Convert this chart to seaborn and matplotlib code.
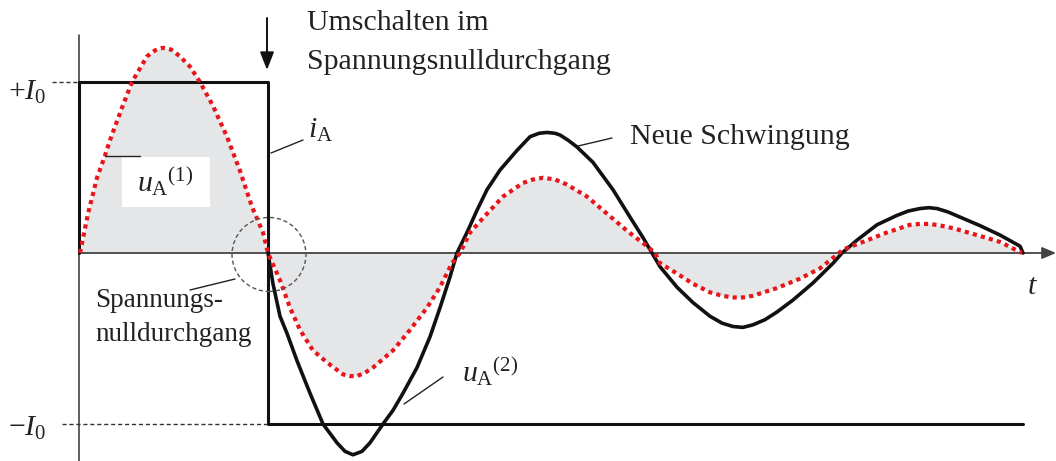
import numpy as np
import matplotlib
matplotlib.use("Agg")
import matplotlib.pyplot as plt
import seaborn as sns
from matplotlib.patches import Rectangle, Ellipse

sns.set_theme(style="white")
plt.rcParams['font.family'] = ['Liberation Serif', 'DejaVu Serif']
plt.rcParams['mathtext.fontset'] = 'custom'
plt.rcParams['mathtext.rm'] = 'Liberation Serif'
plt.rcParams['mathtext.it'] = 'Liberation Serif:italic'

# ---- data (time in arbitrary units, values in units of I0) ----
i_t = [0, 0, 189, 189, 944]
i_v = [0, 1, 1, -1, -1]

red_t = [1, 9, 18, 26, 31, 43, 53, 68, 76, 84, 92, 101, 111, 121, 134, 148, 161, 173, 184, 189,
         201, 211, 221, 234, 248, 264, 271, 278, 286, 294, 314, 331, 348, 361, 373, 381,
         391, 408, 424, 444, 454, 464, 476, 488, 508, 528, 548, 568, 576,
         581, 598, 614, 631, 643, 654, 664, 674, 698, 721, 741, 758, 764,
         784, 808, 831, 841, 851, 862, 874, 898, 921, 943]
red_u = [0, 0.23, 0.44, 0.57, 0.66, 0.85, 1.00, 1.15, 1.185, 1.20, 1.19, 1.15, 1.09, 1.00, 0.86, 0.68, 0.48, 0.27, 0.12, 0,
         -0.16, -0.32, -0.45, -0.57, -0.64, -0.71, -0.72, -0.72, -0.70, -0.67, -0.57, -0.45, -0.32, -0.20, -0.06, 0,
         0.12, 0.23, 0.33, 0.41, 0.43, 0.44, 0.43, 0.40, 0.33, 0.23, 0.13, 0.04, 0,
         -0.06, -0.12, -0.18, -0.23, -0.25, -0.26, -0.26, -0.25, -0.205, -0.15, -0.09, -0.01, 0.02,
         0.065, 0.12, 0.165, 0.17, 0.17, 0.16, 0.145, 0.105, 0.065, 0.0]

blk_t = [189, 194, 201, 208, 218, 231, 244, 258, 266, 274, 283, 291, 304, 314, 324, 338, 351, 361, 371, 378,
         388, 398, 408, 421, 438, 451, 460, 468, 476, 481, 489, 498, 514, 534, 551, 564, 573,
         581, 598, 614, 631, 643, 654, 664, 674, 686, 698, 714, 734, 754, 763,
         771, 778, 798, 818, 829, 841, 850, 858, 869, 881, 901, 921, 941, 944]
blk_u = [0, -0.18, -0.37, -0.47, -0.63, -0.82, -1.0, -1.11, -1.16, -1.18, -1.16, -1.11, -1.0, -0.92, -0.82, -0.67, -0.49, -0.32, -0.14, 0,
         0.12, 0.25, 0.37, 0.485, 0.60, 0.68, 0.70, 0.705, 0.70, 0.69, 0.66, 0.62, 0.53, 0.37, 0.21, 0.09, 0,
         -0.08, -0.20, -0.29, -0.37, -0.41, -0.43, -0.435, -0.42, -0.39, -0.345, -0.275, -0.175, -0.06, 0,
         0.04, 0.075, 0.165, 0.22, 0.245, 0.26, 0.265, 0.26, 0.24, 0.21, 0.16, 0.105, 0.04, 0]

# ---- figure ----
fig = plt.figure(figsize=(10.56, 4.61), dpi=100)
ax = fig.add_axes([0, 0, 1, 1])
ax.set_xlim(-79, 977)
ax.set_ylim(-208 / 171, 253 / 171)
ax.axis('off')

red = '#e8151b'
fs = 21.5
fs_small = 19.5
tc = '#222222'

# gray fill under red curve
ax.fill_between(red_t, red_u, 0, color='#e5e6e8', zorder=1, linewidth=0)

# axes
ax.plot([0, 0], [-208 / 171, 218 / 171], color='#333333', lw=1.1, zorder=2)
ax.annotate('', xy=(977, 0), xytext=(0, 0),
            arrowprops=dict(arrowstyle='-|>,head_length=0.7,head_width=0.3',
                            color='#444444', lw=1.3, shrinkA=0, shrinkB=0), zorder=2)

# dashed level markers
ax.plot([-27, 0], [1, 1], color='#333333', lw=1.0, ls=(0, (3, 2)), zorder=2)
ax.plot([-17, 189], [-1, -1], color='#333333', lw=1.0, ls=(0, (3, 2)), zorder=2)

# white label box
ax.add_patch(Rectangle((43, (253 - 207) / 171), 88, 50 / 171, facecolor='white',
                       edgecolor='none', zorder=1.5))

# curves
sns.lineplot(x=red_t, y=red_u, ax=ax, color=red, lw=3.0, linestyle=(0, (1, 1)),
             estimator=None, sort=False, zorder=4, dash_capstyle='butt')
sns.lineplot(x=blk_t, y=blk_u, ax=ax, color='#111111', lw=2.6,
             estimator=None, sort=False, zorder=3, solid_joinstyle='round')
sns.lineplot(x=i_t, y=i_v, ax=ax, color='#111111', lw=2.2,
             estimator=None, sort=False, zorder=3)

# dashed circle at switching point
ax.add_patch(Ellipse((190, -1.5 / 171), 74, 74 / 171, fill=False,
                     edgecolor='#555555', lw=1.0, ls=(0, (3, 2)), zorder=5))

# switching arrow
ax.annotate('', xy=(188, (253 - 70) / 171), xytext=(188, (253 - 18) / 171),
            arrowprops=dict(arrowstyle='-|>,head_length=0.9,head_width=0.35',
                            color='#111111', lw=1.4, shrinkA=0, shrinkB=0))

# texts
ax.text(228, (253 - 23) / 171, 'Umschalten im', fontsize=fs, va='center', ha='left', color=tc)
ax.text(228, (253 - 62) / 171, 'Spannungsnulldurchgang', fontsize=fs, va='center', ha='left', color=tc)
ax.text(-71, (253 - 92) / 171, r'$+I_0$', fontsize=fs, va='center', ha='left', color=tc)
ax.text(-71, (253 - 428) / 171, r'$-I_0$', fontsize=fs, va='center', ha='left', color=tc)
ax.text(86, (253 - 182) / 171, r'$u_{\mathrm{A}}{}^{(1)}$', fontsize=fs, va='center', ha='center', color=tc)
ax.text(229, (253 - 130) / 171, r'$i_{\mathrm{A}}$', fontsize=fs, va='center', ha='left', color=tc)
ax.text(551, (253 - 137) / 171, 'Neue Schwingung', fontsize=fs, va='center', ha='left', color=tc)
ax.text(383, (253 - 372) / 171, r'$u_{\mathrm{A}}{}^{(2)}$', fontsize=fs, va='center', ha='left', color=tc)
ax.text(16, (253 - 300) / 171, 'Spannungs-', fontsize=fs_small, va='center', ha='left', color=tc)
ax.text(16, (253 - 334) / 171, 'nulldurchgang', fontsize=fs_small, va='center', ha='left', color=tc)
ax.text(953, (253 - 287) / 171, r'$t$', fontsize=fs, va='center', ha='center', color=tc)

# leader lines
def leader(x0, y0, x1, y1):
    ax.plot([x0 - 79, x1 - 79], [(253 - y0) / 171, (253 - y1) / 171], color=tc, lw=1.0, zorder=6)

leader(105, 156, 140, 156)
leader(271, 153, 303, 140)
leader(578, 146, 612, 138)
leader(404, 404, 443, 377)
leader(190, 290, 235, 279)

fig.savefig('out.png', dpi=100)
